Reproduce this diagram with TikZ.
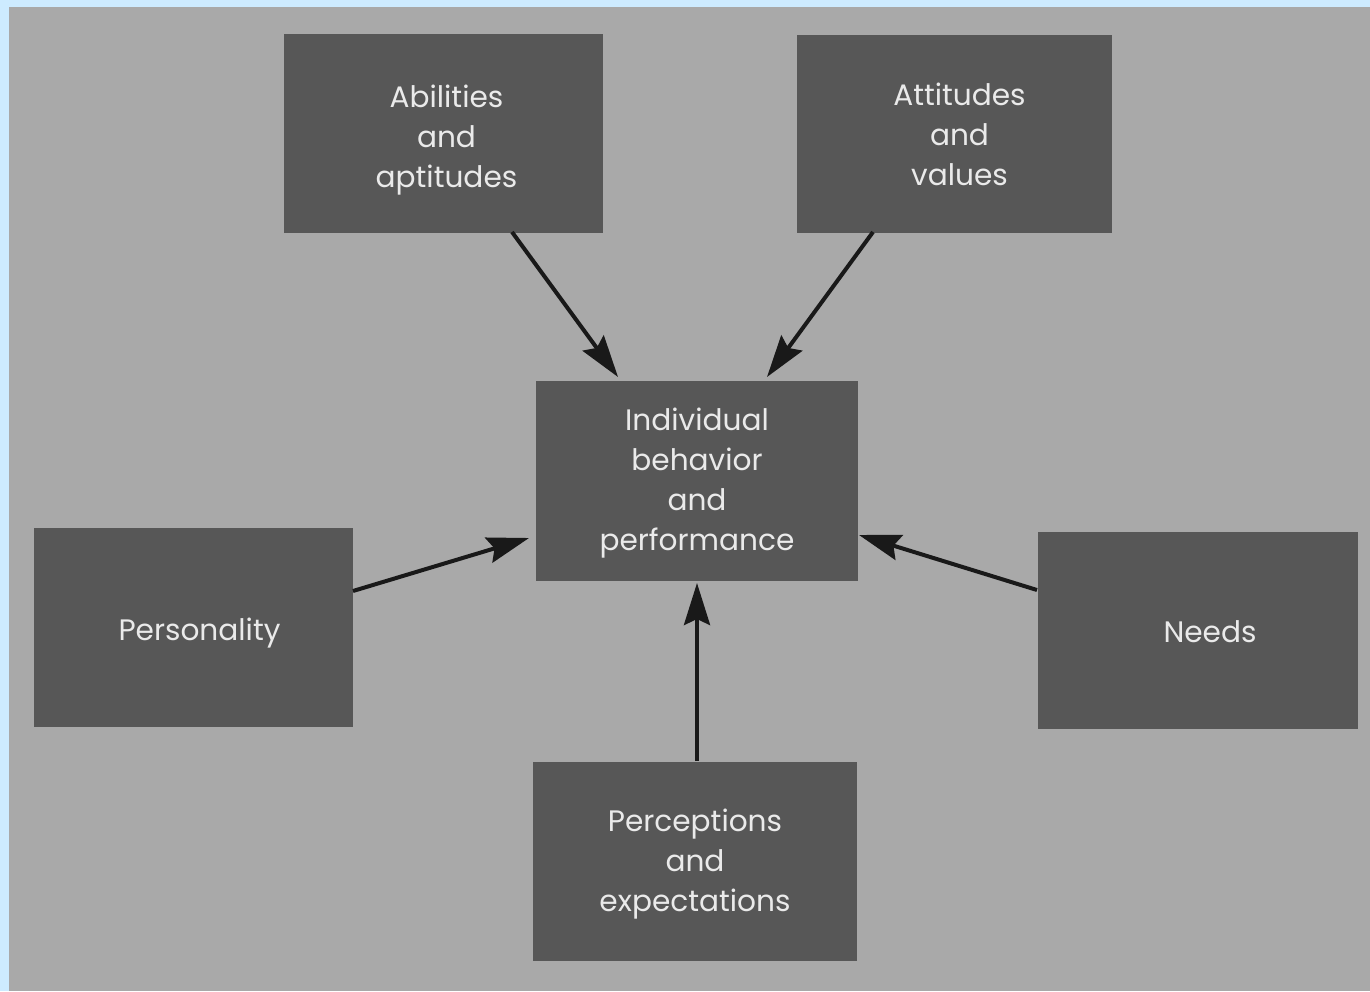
\documentclass[tikz,border=0pt]{standalone}
\usepackage{fontspec}
\setmainfont{Poppins}
\usetikzlibrary{arrows.meta}
\definecolor{bluebd}{HTML}{CDEBFF}
\definecolor{bggrey}{HTML}{A9A9A9}
\definecolor{boxgrey}{HTML}{575757}
\definecolor{txtgrey}{HTML}{EAEAEA}
\begin{document}
\begin{tikzpicture}[x=0.5pt,y=-0.5pt,
  factor/.style={fill=boxgrey,draw=none,inner sep=0pt},
  factortext/.style={text=txtgrey,align=center,inner sep=0pt,
    font=\fontsize{14.8}{20}\selectfont},
  influence/.style={line width=2pt,black!90,-{Stealth[length=21pt,width=13pt,inset=3pt]}}]
\useasboundingbox (0,0) rectangle (1370,991);
\fill[bluebd] (0,0) rectangle (1370,991);
\fill[bggrey] (9,7) rectangle (1370,991);
% boxes
\node[factor,minimum width=159.5pt,minimum height=99.5pt,
  label={[factortext,xshift=1.5pt,yshift=-3.5pt]center:Abilities\\and\\aptitudes}] (abil) at (443.5,133.5) {};
\node[factor,minimum width=157.5pt,minimum height=99pt,
  label={[factortext,xshift=2.5pt,yshift=0pt]center:Attitudes\\and\\values}] (att) at (954.5,134) {};
\node[factor,minimum width=161pt,minimum height=100pt,
  label={[factortext,xshift=0pt,yshift=-1pt]center:Individual\\behavior\\and\\performance}] (ind) at (697,481) {};
\node[factor,minimum width=159.5pt,minimum height=99.5pt,
  label={[factortext,xshift=3pt,yshift=-3pt]center:Personality}] (pers) at (193.5,627.5) {};
\node[factor,minimum width=160pt,minimum height=98.5pt,
  label={[factortext,xshift=6pt,yshift=-0.5pt]center:Needs}] (needs) at (1198,630.5) {};
\node[factor,minimum width=162pt,minimum height=99.5pt,
  label={[factortext,xshift=0pt,yshift=-1.5pt]center:Perceptions\\and\\expectations}] (perc) at (695,861.5) {};
% connectors
\coordinate (a1) at (512,232); \coordinate (a2) at (618,377);
\coordinate (b1) at (873,232); \coordinate (b2) at (767,377);
\coordinate (c1) at (353,591); \coordinate (c2) at (529,538);
\coordinate (d1) at (1037,590); \coordinate (d2) at (859,535);
\coordinate (e1) at (697,761); \coordinate (e2) at (697,583);
\draw[influence] (a1) -- (a2);
\draw[influence] (b1) -- (b2);
\draw[influence] (c1) -- (c2);
\draw[influence] (d1) -- (d2);
\draw[influence] (e1) -- (e2);
\end{tikzpicture}
\end{document}
